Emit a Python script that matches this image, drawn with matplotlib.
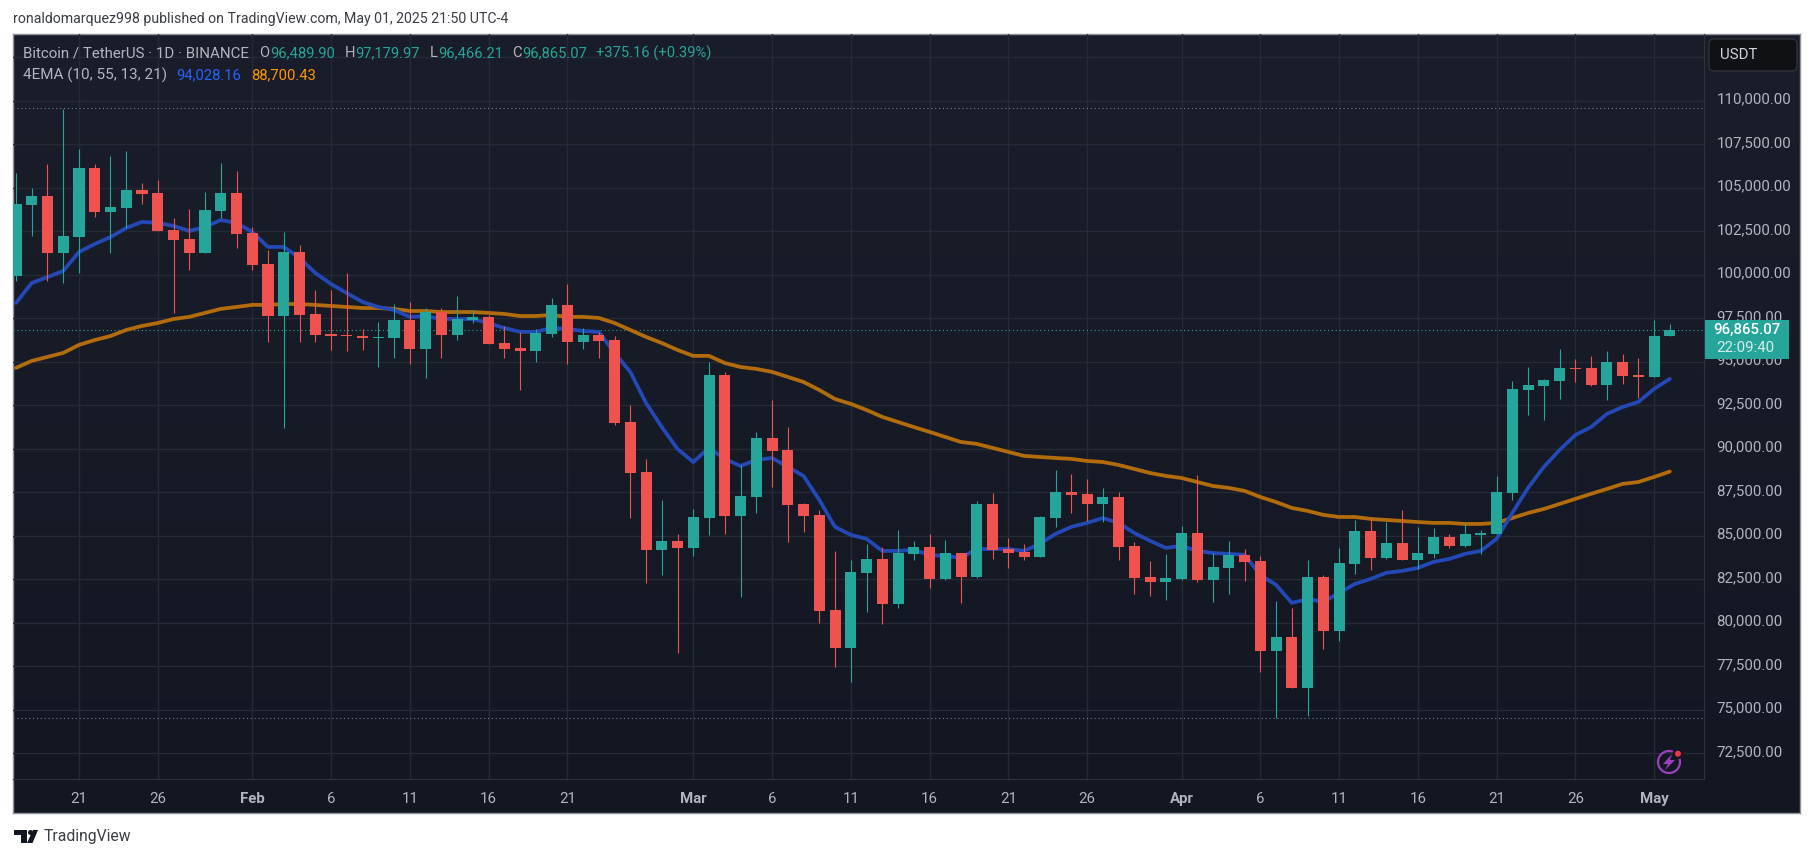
import matplotlib
matplotlib.use("Agg")
import matplotlib.pyplot as plt
import numpy as np
from matplotlib.patches import Circle, FancyBboxPatch, Polygon, Rectangle
from matplotlib.transforms import ScaledTranslation

plt.rcParams["font.family"] = ["Roboto", "DejaVu Sans"]

# day 0 is Jan 21 2025, first visible bar is Jan 17
days = list(range(-4, 102))

opens = [
    99940, 104020, 104540, 101260, 102180, 106150, 103620, 103850, 104890, 104710,
    102590, 102070, 101260, 103680, 104710, 102410, 100630, 97640, 101320, 97760,
    96610, 96550, 96490, 96380, 96380, 97410, 95750, 97870, 96550, 97410,
    97590, 96090, 95810, 95630, 96610, 98280, 96150, 96550, 96260, 91550,
    88680, 84200, 84720, 84310, 86030, 94250, 86150, 87240, 90630, 89940,
    86840, 86210, 80750, 78560, 82880, 83680, 81090, 83970, 84370, 82530,
    84020, 82640, 86840, 84250, 84080, 83790, 86030, 87530, 87420, 86840,
    87240, 84430, 82640, 82360, 82530, 85170, 82470, 83160, 83910, 83560,
    78390, 79200, 76260, 82640, 79540, 83390, 85290, 83740, 84600, 83620,
    83970, 84940, 84430, 85060, 85120, 87470, 93390, 93620, 93910, 94650,
    94650, 93680, 95000, 94250, 94140, 96489.90,
]
highs = [
    105860, 105000, 106380, 109540, 107240, 106380, 106840, 107130, 105290, 105460,
    103280, 103790, 104770, 106440, 105980, 102760, 101440, 102470, 101720, 99140,
    99140, 100120, 96900, 97300, 98330, 98450, 98100, 98100, 98790, 97990,
    97700, 97070, 96730, 96900, 98680, 99480, 96950, 96730, 96490, 92530,
    89430, 87070, 85120, 86550, 95000, 94430, 89080, 90980, 92820, 91260,
    86900, 86490, 84140, 83620, 84540, 84370, 85340, 84720, 85120, 84770,
    84020, 87010, 87470, 84890, 84540, 86150, 88790, 88560, 88280, 87760,
    87530, 84660, 83560, 83970, 85580, 88500, 84020, 84720, 84250, 83850,
    81260, 80860, 83620, 82760, 84310, 85920, 86090, 85800, 86490, 85520,
    85460, 85120, 85690, 85340, 88450, 93910, 94710, 94020, 95750, 95170,
    95350, 95630, 95460, 95230, 97410, 97179.97,
]
lows = [
    99660, 102240, 99660, 99540, 100120, 103330, 101260, 102700, 104080, 102530,
    97820, 100290, 101260, 103280, 101550, 100290, 96150, 91210, 96150, 96150,
    95690, 95630, 95690, 94710, 95230, 94890, 94080, 95230, 96260, 97240,
    96030, 95230, 93390, 95000, 96440, 94890, 95750, 95230, 91380, 86030,
    82300, 82760, 78280, 83850, 85060, 85120, 81490, 86320, 87820, 84660,
    85230, 80000, 77470, 76610, 80630, 79940, 80860, 83620, 82010, 82470,
    81150, 82590, 83680, 83160, 83620, 83790, 85520, 86320, 85860, 85800,
    83620, 81660, 81550, 81320, 82470, 82360, 81210, 81660, 82410, 77180,
    74540, 76260, 74660, 78510, 78970, 82820, 83050, 83680, 83620, 83100,
    83730, 84310, 84370, 83970, 85120, 87070, 91950, 91670, 92870, 93850,
    93620, 92820, 93740, 92930, 94140, 96466.21,
]
closes = [
    104080, 104540, 101260, 102240, 106150, 103620, 103910, 104890, 104660, 102530,
    102010, 101260, 103740, 104710, 102360, 100570, 97640, 101320, 97700, 96550,
    96490, 96490, 96380, 96440, 97410, 95750, 97870, 96550, 97470, 97590,
    96030, 95750, 95630, 96660, 98280, 96150, 96550, 96200, 91490, 88620,
    84200, 84720, 84310, 86090, 94250, 86150, 87300, 90630, 89890, 86780,
    86150, 80690, 78560, 82930, 83680, 81090, 84020, 84370, 82530, 84020,
    82640, 86840, 84200, 84020, 83790, 86090, 87530, 87360, 86840, 87240,
    84370, 82590, 82360, 82590, 85170, 82470, 83220, 83910, 83510, 78390,
    79200, 76260, 82640, 79540, 83450, 85290, 83740, 84600, 83620, 84020,
    84940, 84430, 85120, 85170, 87530, 93450, 93680, 93960, 94650, 94600,
    93680, 95000, 94200, 94140, 96490, 96865.07,
]
ema_fast = [
    98390, 99540, 99880, 100230, 101320, 101780, 102180, 102700, 103050, 102990,
    102820, 102530, 102760, 103160, 102990, 102470, 101610, 101610, 100980, 100120,
    99480, 98960, 98450, 98160, 97990, 97590, 97640, 97470, 97470, 97470,
    97240, 96950, 96730, 96730, 96950, 96900, 96780, 96730, 95520, 94430,
    92640, 91260, 90000, 89250, 90060, 89430, 89020, 89370, 89480, 88970,
    88450, 87070, 85520, 85060, 84830, 84140, 84140, 84200, 83910, 83850,
    83740, 84250, 84250, 84250, 84140, 84540, 85120, 85520, 85750, 86030,
    85750, 85170, 84720, 84310, 84430, 84140, 84020, 83970, 83910, 82760,
    82190, 81150, 81380, 81210, 81720, 82240, 82530, 82880, 82990, 83160,
    83510, 83680, 83970, 84140, 84830, 86320, 87760, 88970, 89940, 90800,
    91260, 92010, 92410, 92700, 93450, 94028.16,
]
ema_slow = [
    94660, 95060, 95290, 95520, 95980, 96260, 96490, 96840, 97070, 97240,
    97470, 97590, 97820, 98050, 98160, 98280, 98280, 98330, 98330, 98280,
    98220, 98160, 98100, 98100, 98050, 97930, 97930, 97870, 97870, 97870,
    97820, 97760, 97640, 97640, 97700, 97590, 97590, 97530, 97240, 96840,
    96440, 96090, 95690, 95350, 95350, 94940, 94710, 94600, 94430, 94140,
    93850, 93390, 92870, 92590, 92240, 91840, 91550, 91260, 90980, 90690,
    90400, 90290, 90060, 89830, 89600, 89540, 89480, 89430, 89310, 89250,
    89080, 88850, 88620, 88450, 88330, 88100, 87870, 87760, 87590, 87240,
    86950, 86610, 86440, 86210, 86090, 86090, 85980, 85920, 85860, 85800,
    85750, 85750, 85690, 85690, 85750, 86030, 86320, 86550, 86840, 87130,
    87420, 87700, 87990, 88100, 88390, 88700.43,
]
range_high = 109588
range_low = 74508
last_price = 96865.07

tick_days = [0, 5, 11, 16, 21, 26, 31, 39, 44, 49, 54, 59, 64, 70, 75, 80, 85, 90, 95, 100]
tick_labels = ["21", "26", "Feb", "6", "11", "16", "21", "Mar", "6", "11", "16", "21", "26",
               "Apr", "6", "11", "16", "21", "26", "May"]
months = ["Feb", "Mar", "Apr", "May"]
grid_prices = list(range(72500, 115000, 2500))
label_prices = list(range(72500, 112500, 2500))

W, H = 1814, 858
UP = "#26a69a"
DOWN = "#ef5350"
GRID = "#262a35"
TEXT = "#b2b5be"


def rect(x0, y0, x1, y1):
    return [x0 / W, 1 - y1 / H, (x1 - x0) / W, (y1 - y0) / H]


def main():
    fig = plt.figure(figsize=(W / 100, H / 100), dpi=100, facecolor="white")

    # background panel with the dark vertical gradient
    bg = fig.add_axes(rect(13, 34, 1800, 813))
    top_col = np.array([0x1a, 0x1e, 0x2a]) / 255
    bot_col = np.array([0x13, 0x17, 0x22]) / 255
    t = np.linspace(0, 1, 256)[:, None, None]
    bg.imshow(top_col * (1 - t) + bot_col * t, aspect="auto", extent=(0, 1, 0, 1))
    bg.set_xticks([])
    bg.set_yticks([])
    for s in bg.spines.values():
        s.set_color("#8f929b")
        s.set_linewidth(1)

    ax = fig.add_axes(rect(13, 34, 1704, 779))
    ax.patch.set_alpha(0)
    ax.set_xlim(-4.19, 103.17)
    ax.set_ylim(71030, 113850)

    ax.set_xticks(tick_days, tick_labels)
    ax.set_yticks(label_prices, [f"{p:,.2f}" for p in label_prices])
    ax.yaxis.tick_right()
    ax.tick_params(axis="both", length=0, colors=TEXT, labelsize=10.8)
    ax.tick_params(axis="x", pad=9.5)
    ax.tick_params(axis="y", pad=9)
    # labels sit a little higher than matplotlib centres them
    nudge = ScaledTranslation(0, 2 / 72, fig.dpi_scale_trans)
    for lab in ax.get_yticklabels():
        lab.set_transform(lab.get_transform() + nudge)
    for lab in ax.get_xticklabels():
        if lab.get_text() in months:
            lab.set_fontweight("bold")
    for x in tick_days:
        ax.axvline(x, color=GRID, lw=1, zorder=1)
    for p in grid_prices:
        ax.axhline(p, color=GRID, lw=1, zorder=1)
    for side in ["left", "top"]:
        ax.spines[side].set_visible(False)
    ax.spines["right"].set_color("#2e323d")
    ax.spines["bottom"].set_color("#2e323d")

    ax.axhline(range_high, color="#787b86", lw=0.8, ls=(0, (1, 2.5)), zorder=2)
    ax.axhline(range_low, color="#787b86", lw=0.8, ls=(0, (1, 2.5)), zorder=2)
    ax.axhline(last_price, color=UP, lw=0.8, ls=(0, (1, 2.5)), zorder=2)

    ax.plot(days, ema_slow, color="#b26c0c", lw=2.7, zorder=3, solid_capstyle="round")
    ax.plot(days, ema_fast, color="#2448b6", lw=2.7, zorder=3, solid_capstyle="round")

    o = np.array(opens)
    c = np.array(closes)
    colors = [UP if b >= a else DOWN for a, b in zip(o, c)]
    ax.vlines(days, lows, highs, colors=colors, lw=0.8, zorder=4)
    ax.bar(days, np.abs(c - o), bottom=np.minimum(o, c), width=0.7, color=colors, zorder=5)

    # everything that sits on the page in pixel positions
    ov = fig.add_axes([0, 0, 1, 1])
    ov.set_xlim(0, W)
    ov.set_ylim(H, 0)
    ov.axis("off")

    ov.text(13, 19, "ronaldomarquez998 published on TradingView.com, May 01, 2025 21:50 UTC-4",
            fontsize=10.15, color="#3a3d45", va="center")

    ov.text(23, 53, "Bitcoin / TetherUS · 1D · BINANCE", fontsize=10.9, color=TEXT, va="center")
    pieces = [
        (259, "O", TEXT), (270, "96,489.90", UP),
        (345, "H", TEXT), (355, "97,179.97", UP),
        (430, "L", TEXT), (438, "96,466.21", UP),
        (512, "C", TEXT), (522, "96,865.07", UP),
        (596, "+375.16 (+0.39%)", UP),
    ]
    for x, s, col in pieces:
        ov.text(x, 53, s, fontsize=10.6, color=col, va="center")
    ov.text(23, 75, "4EMA (10, 55, 13, 21)", fontsize=11, color=TEXT, va="center")
    ov.text(176, 75, "94,028.16", fontsize=10.6, color="#2962ff", va="center")
    ov.text(251, 75, "88,700.43", fontsize=10.6, color="#ff9800", va="center")

    # USDT button
    ov.add_patch(FancyBboxPatch((1713, 43), 80, 24, boxstyle="round,pad=4,rounding_size=5",
                                fc="#101114", ec="#2e323d", lw=1, mutation_aspect=1))
    ov.text(1720, 55, "USDT", fontsize=10.8, color="#d1d4dc", va="center")

    # last price tag
    ov.add_patch(Rectangle((1705, 320), 83.5, 38.7, fc=UP, ec="none"))
    ov.text(1746.5, 330, "96,865.07", fontsize=10.8, color="white", ha="center", va="center",
            fontweight="medium")
    ov.text(1716, 348, "22:09:40", fontsize=10.8, color="#d4ece9", va="center")

    # bolt badge
    ov.add_patch(Circle((1669, 762), 11, fc="none", ec="#9c3fc0", lw=1.6))
    ov.add_patch(Polygon([(1672, 754), (1663, 764), (1668, 764), (1665, 770), (1675, 760), (1670, 760)],
                         fc="#9c3fc0", ec="none"))
    ov.add_patch(Circle((1678, 753.7), 5.5, fc="#131722", ec="none"))
    ov.add_patch(Circle((1678, 753.7), 3, fc="#f23645", ec="none"))

    # TradingView logo
    ov.add_patch(Polygon([(14, 830), (27, 830), (27, 843), (20.5, 843), (20.5, 835), (14, 835)],
                         fc="#131722", ec="none"))
    ov.add_patch(Circle((30.5, 832.5), 2.5, fc="#131722", ec="none"))
    ov.add_patch(Polygon([(33, 830), (38, 830), (32.5, 843), (27, 843)], fc="#131722", ec="none"))
    ov.text(44, 837, "TradingView", fontsize=11.3, color="#3a3d45", va="center")

    fig.savefig("out.png", dpi=100)
    plt.close(fig)


if __name__ == "__main__":
    main()
